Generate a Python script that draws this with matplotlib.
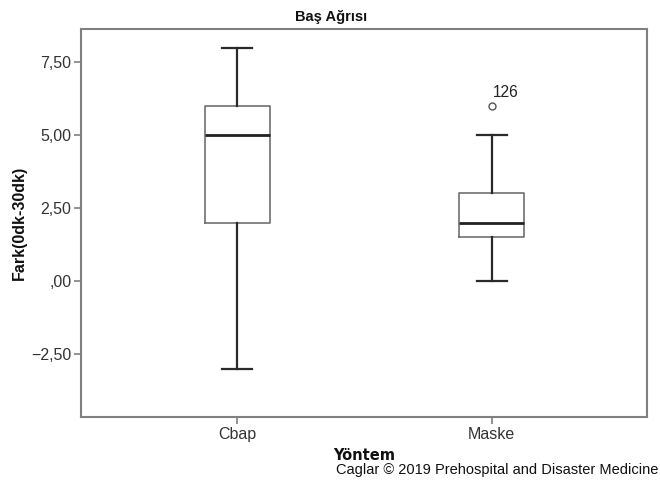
import matplotlib.pyplot as plt
from matplotlib.ticker import FuncFormatter

plt.rcParams['font.family'] = ['Liberation Sans', 'DejaVu Sans']

# box statistics
categories = ['Cbap', 'Maske']
whislo = [-3.0, 0.0]
q1 = [2.0, 1.5]
med = [5.0, 2.0]
q3 = [6.0, 3.0]
whishi = [8.0, 5.0]
fliers = [[], [6.0]]
flier_labels = [[], ['126']]

yticks = [-2.5, 0.0, 2.5, 5.0, 7.5]

stats = []
for i in range(len(categories)):
    stats.append({'label': categories[i], 'whislo': whislo[i], 'q1': q1[i],
                  'med': med[i], 'q3': q3[i], 'whishi': whishi[i],
                  'fliers': fliers[i]})

fig = plt.figure(figsize=(6.6, 4.8), dpi=100)
ax = fig.add_axes([0.1227, 0.131, 0.8576, 0.8083])

positions = [1, 2]
ax.bxp(stats, positions=positions, widths=0.255, capwidths=0.12,
       boxprops=dict(color='#707070', linewidth=1.2),
       whiskerprops=dict(color='#2a2a2a', linewidth=1.6),
       capprops=dict(color='#2a2a2a', linewidth=1.6),
       medianprops=dict(color='#222222', linewidth=2.0),
       flierprops=dict(marker='o', markersize=5, markerfacecolor='none',
                       markeredgecolor='#555555', markeredgewidth=1.0))

for i, pos in enumerate(positions):
    for v, lab in zip(fliers[i], flier_labels[i]):
        ax.text(pos + 0.005, v + 0.2, lab, fontsize=11.2, color='#222222',
                ha='left', va='bottom')

ax.set_xlim(0.387, 2.609)
ax.set_ylim(-4.66, 8.63)
ax.set_yticks(yticks)


def fmt(v, _):
    s = f'{abs(v):.2f}'.replace('.', ',')
    if s.startswith('0'):
        s = s[1:]
    return ('\u2212' + s) if v < 0 else s


ax.yaxis.set_major_formatter(FuncFormatter(fmt))
ax.set_xticks(positions)
ax.set_xticklabels(categories)

for side in ['top', 'right', 'left', 'bottom']:
    ax.spines[side].set_color('#808080')
    ax.spines[side].set_linewidth(1.5)
ax.tick_params(axis='both', direction='out', length=5, width=1.2,
               color='#808080', labelsize=11.5, labelcolor='#333333', pad=2)

fig.text(0.5015, 0.965, 'Baş Ağrısı', ha='center', va='center',
         fontsize=10.5, fontweight='bold', color='#111111')
fig.text(0.030, 0.536, 'Fark(0dk-30dk)', ha='center', va='center',
         rotation=90, fontsize=11.5, fontweight='bold', color='#111111')
fig.text(0.5515, 0.052, 'Yöntem', ha='center', va='center',
         fontsize=10.5, fontweight='bold', color='#111111',
         family=['DejaVu Sans'])
fig.text(0.997, 0.021, 'Caglar © 2019 Prehospital and Disaster Medicine',
         ha='right', va='center', fontsize=10.5, color='#111111')

plt.savefig('out.png', dpi=100)
